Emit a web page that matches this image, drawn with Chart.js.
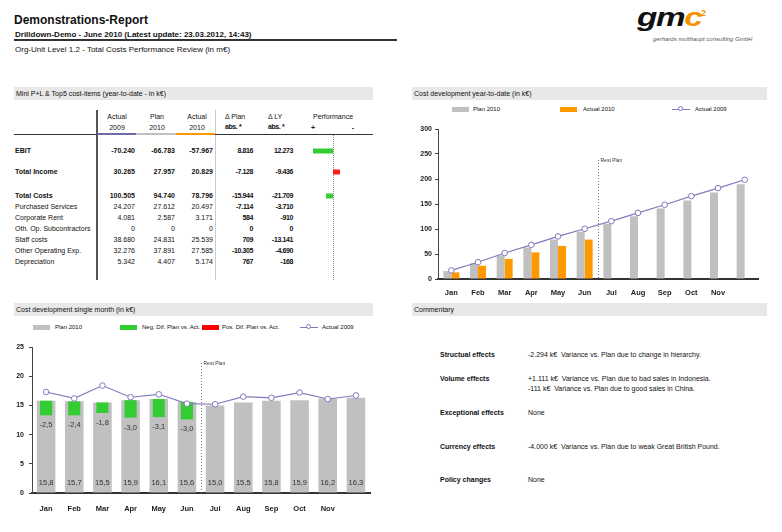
<!DOCTYPE html>
<html>

<head>
    <meta charset="utf-8">
    <title>Demonstrations-Report</title>
    <script src="https://cdn.jsdelivr.net/npm/chart.js"></script>
    <style>
        body { margin: 0; background: #fff; font-family: "Liberation Sans", Arial, sans-serif; color: #111; }
        #page { position: relative; width: 782px; height: 532px; overflow: hidden; }
        .t { position: absolute; white-space: nowrap; font-size: 7px; line-height: 10px; height: 10px; }
        .b { font-weight: bold; }
        .d { font-weight: bold; letter-spacing: -0.4px; }
        .head { position: absolute; background: #e8e8e8; height: 13px; font-size: 7px; line-height: 13px; padding-left: 2px; box-sizing: border-box; }
        .sw { position: absolute; height: 5px; width: 17px; }
        .ln { position: absolute; height: 1px; width: 18px; background: #7f7bbd; }
        .ln::after { content: ""; position: absolute; left: 6px; top: -3px; width: 5px; height: 5px; border: 1px solid #7f7bbd; border-radius: 50%; background: #fff; box-sizing: border-box; }
        .lg { font-size: 6px; }
        canvas { position: absolute; }
    </style>
</head>

<body>
    <div id="page">
        <!-- report header -->
        <div class="t b" style="left:14px;top:13px;font-size:12px;line-height:14px;height:14px">Demonstrations-Report</div>
        <div class="t b" style="left:15px;top:30px;font-size:8px">Drilldown-Demo - June 2010 (Latest update: 23.03.2012, 14:43)</div>
        <div style="position:absolute;left:14px;top:39px;width:383px;height:1.5px;background:#333"></div>
        <div class="t" style="left:15px;top:45px;font-size:8px">Org-Unit Level 1.2 - Total Costs Performance Review (in m€)</div>

        <!-- logo -->
        <div class="t" style="left:637px;top:2px;font-size:26px;line-height:30px;height:30px;font-weight:bold;font-style:italic;letter-spacing:-1px;transform:scaleX(1.28);transform-origin:left">gm<span style="color:#f39200">c</span></div>
        <div class="t b" style="left:701px;top:8px;font-size:9px;color:#f39200">2</div>
        <div class="t" style="left:653px;top:34px;font-size:6px;font-style:italic;color:#555">gerhards multhaupt consulting GmbH</div>

        <!-- section headers -->
        <div class="head" style="left:14px;top:87px;width:359px">Mini P+L &amp; Top5 cost-items (year-to-date - in k€)</div>
        <div class="head" style="left:412px;top:87px;width:355px">Cost development year-to-date (in k€)</div>
        <div class="head" style="left:14px;top:303px;width:359px">Cost development single month (in k€)</div>
        <div class="head" style="left:412px;top:303px;width:355px">Commentary</div>

        <!-- table frame -->
        <div style="position:absolute;left:96px;top:110px;width:2px;height:170px;background:#555"></div>
        <div style="position:absolute;left:215px;top:110px;width:1px;height:170px;background:#ccc"></div>
        <div style="position:absolute;left:14px;top:134px;width:359px;height:1px;background:#333"></div>
        <div style="position:absolute;left:97px;top:133px;width:39px;height:2px;background:#6f6aaa"></div>
        <div style="position:absolute;left:136px;top:133px;width:40px;height:2px;background:#c0c0c0"></div>
        <div style="position:absolute;left:176px;top:133px;width:39px;height:2px;background:#ff9900"></div>
        <div style="position:absolute;left:333px;top:135px;height:145px;border-left:1px dotted #888"></div>

        <!-- legend year-to-date -->
        <div class="sw" style="left:452px;top:107px;background:#c0c0c0"></div>
        <div class="t lg" style="left:473px;top:104px">Plan 2010</div>
        <div class="sw" style="left:560px;top:107px;background:#ff9900"></div>
        <div class="t lg" style="left:583px;top:104px">Actual 2010</div>
        <div class="ln" style="left:672px;top:109px"></div>
        <div class="t lg" style="left:695px;top:104px">Actual 2009</div>

        <!-- legend single month -->
        <div class="sw" style="left:33px;top:325px;background:#c0c0c0"></div>
        <div class="t lg" style="left:55px;top:322px">Plan 2010</div>
        <div class="sw" style="left:120px;top:325px;background:#33cc33"></div>
        <div class="t lg" style="left:142px;top:322px">Neg. Dif. Plan vs. Act.</div>
        <div class="sw" style="left:202px;top:325px;background:#ff0000"></div>
        <div class="t lg" style="left:222px;top:322px">Pos. Dif. Plan vs. Act.</div>
        <div class="ln" style="left:300px;top:327px"></div>
        <div class="t lg" style="left:322px;top:322px">Actual 2009</div>

        <!-- commentary -->
        <div class="t b" style="left:440px;top:350px">Structual effects</div>
        <div class="t" style="left:528px;top:350px">-2.294 k€&nbsp; Variance vs. Plan due to change in hierarchy.</div>
        <div class="t b" style="left:440px;top:374px">Volume effects</div>
        <div class="t" style="left:528px;top:374px">+1.111 k€&nbsp; Variance vs. Plan due to bad sales in Indonesia.</div>
        <div class="t" style="left:528px;top:384px">-111 k€&nbsp; Variance vs. Plan due to good sales in China.</div>
        <div class="t b" style="left:440px;top:408px">Exceptional effects</div>
        <div class="t" style="left:528px;top:408px">None</div>
        <div class="t b" style="left:440px;top:442px">Currency effects</div>
        <div class="t" style="left:528px;top:442px">-4.000 k€&nbsp; Variance vs. Plan due to weak Great British Pound.</div>
        <div class="t b" style="left:440px;top:475px">Policy changes</div>
        <div class="t" style="left:528px;top:475px">None</div>

        <canvas id="ytdChart" width="358" height="205" style="left:412px;top:100px"></canvas>
        <canvas id="monthChart" width="372" height="190" style="left:8px;top:335px"></canvas>
    </div>

    <script>
        // months (December has no label in the report)
        const months = ['Jan', 'Feb', 'Mar', 'Apr', 'May', 'Jun', 'Jul', 'Aug', 'Sep', 'Oct', 'Nov', ''];
        const restPlanFrom = 6; // first month that is plan only

        // year-to-date (k€)
        const planYtd = [15.8, 31.5, 47.0, 62.9, 79.0, 94.7, 110.0, 125.5, 141.0, 157.0, 173.0, 189.3];
        const actualYtd2010 = [13.3, 26.6, 40.3, 53.2, 66.2, 78.8];
        const actualYtd2009 = [17.3, 33.5, 51.9, 68.3, 85.2, 100.5, 115.7, 132.2, 148.5, 165.7, 181.8, 198.5];

        // single month (k€)
        const planMonth = [15.8, 15.7, 15.5, 15.9, 16.1, 15.6, 15.0, 15.5, 15.8, 15.9, 16.2, 16.3];
        const negDiff = [-2.5, -2.4, -1.8, -3.0, -3.1, -3.0];
        const posDiff = [];
        const actualMonth2009 = [17.3, 16.2, 18.4, 16.4, 16.9, 15.3, 15.2, 16.5, 16.3, 17.2, 16.1, 16.7];

        // mini P+L table
        const rowLabels = ['EBIT', 'Total Income', 'Total Costs', 'Purchased Services', 'Corporate Rent',
            'Oth. Op. Subcontractors', 'Staff costs', 'Other Operating Exp.', 'Depreciation'];
        const actual2009 = [-70240, 30265, 100505, 24207, 4081, 0, 38680, 32276, 5342];
        const plan2010 = [-66783, 27957, 94740, 27612, 2587, 0, 24831, 37891, 4407];
        const actual2010 = [-57967, 20829, 78796, 20497, 3171, 0, 25539, 27585, 5174];
        const deltaPlan = [8816, -7128, -15944, -7114, 584, 0, 709, -10305, 767];
        const deltaLY = [12273, -9436, -21709, -3710, -910, 0, -13141, -4690, -168];
        const performance = [2.0, -0.7, 0.7]; // + = better (drawn left), EBIT / Income / Costs

        const page = document.getElementById('page');
        const FONT = '"Liberation Sans", Arial, sans-serif';
        Chart.defaults.font.family = FONT;
        Chart.defaults.color = '#222';

        function fmt(v) {
            const s = Math.abs(v).toString().replace(/\B(?=(\d{3})+(?!\d))/g, '.');
            return (v < 0 ? '-' : '') + s;
        }
        function dec(v) {
            return v.toFixed(1).replace('.', ',');
        }
        function put(x, y, s, cls, align) {
            const d = document.createElement('div');
            d.className = 't ' + (cls || '');
            d.textContent = s;
            d.style.left = x + 'px';
            d.style.top = (y - 5) + 'px';
            if (align === 'r') d.style.transform = 'translateX(-100%)';
            if (align === 'c') d.style.transform = 'translateX(-50%)';
            page.appendChild(d);
        }

        // table header
        put(117, 117, 'Actual', '', 'c'); put(117, 128, '2009', '', 'c');
        put(157, 117, 'Plan', '', 'c'); put(157, 128, '2010', '', 'c');
        put(197, 117, 'Actual', '', 'c'); put(197, 128, '2010', '', 'c');
        put(225, 117, 'Δ Plan'); put(225, 127, 'abs. *', 'd');
        put(268, 117, 'Δ LY'); put(268, 127, 'abs. *', 'd');
        put(333, 117, 'Performance', '', 'c');
        put(313, 128, '+', 'b', 'c'); put(353, 128, '-', 'b', 'c');

        // table rows
        const rowY = [151, 172, 196, 207, 218, 229, 240, 251, 262];
        rowLabels.forEach((label, i) => {
            const cls = i < 3 ? 'b' : '';
            put(15, rowY[i], label, cls);
            put(135, rowY[i], fmt(actual2009[i]), cls, 'r');
            put(175, rowY[i], fmt(plan2010[i]), cls, 'r');
            put(213, rowY[i], fmt(actual2010[i]), cls, 'r');
            put(253, rowY[i], fmt(deltaPlan[i]), 'd', 'r');
            put(293, rowY[i], fmt(deltaLY[i]), 'd', 'r');
        });

        // performance bars
        performance.forEach((v, i) => {
            const c = document.createElement('canvas');
            c.width = 80; c.height = 8;
            c.style.left = '293px';
            c.style.top = (rowY[i] - 4) + 'px';
            page.appendChild(c);
            new Chart(c, {
                type: 'bar',
                data: {
                    labels: [rowLabels[i]],
                    datasets: [{
                        data: [v],
                        backgroundColor: v >= 0 ? '#33cc33' : '#ff1a1a',
                        barPercentage: 1,
                        categoryPercentage: 0.62
                    }]
                },
                options: {
                    indexAxis: 'y',
                    responsive: false,
                    animation: false,
                    events: [],
                    layout: { padding: 0 },
                    plugins: { legend: { display: false }, tooltip: { enabled: false } },
                    scales: {
                        x: { display: false, min: -4, max: 4, reverse: true },
                        y: { display: false }
                    }
                }
            });
        });

        // dotted "Rest Plan" divider between actual and plan months
        const restPlan = {
            id: 'restPlan',
            beforeDatasetsDraw(chart, args, opts) {
                const xs = chart.scales.x;
                const x = Math.round((xs.getPixelForValue(restPlanFrom - 1) + xs.getPixelForValue(restPlanFrom)) / 2) + 0.5;
                const top = chart.chartArea.top + opts.offset;
                const ctx = chart.ctx;
                ctx.save();
                ctx.strokeStyle = '#777';
                ctx.lineWidth = 1;
                ctx.setLineDash([1, 2]);
                ctx.beginPath();
                ctx.moveTo(x, top);
                ctx.lineTo(x, chart.chartArea.bottom);
                ctx.stroke();
                ctx.setLineDash([]);
                ctx.font = '5px ' + FONT;
                ctx.fillStyle = '#333';
                ctx.textBaseline = 'middle';
                ctx.fillText('Rest Plan', x + 2, top + 1);
                ctx.restore();
            }
        };

        function yAxis(max, step, width, pad) {
            return {
                min: 0, max: max,
                ticks: { stepSize: step, padding: pad, font: { size: 7, weight: 'bold' }, color: '#222' },
                grid: { display: true, drawOnChartArea: false, drawTicks: true, tickLength: 3, color: '#444' },
                border: { display: true, color: '#444', width: 1 },
                afterFit(s) { s.width = width; }
            };
        }
        function xAxis(height, pad) {
            return {
                grid: { display: false, drawTicks: false },
                border: { display: true, color: '#333', width: 2 },
                ticks: { padding: pad, font: { size: 7.5, weight: 'bold' }, color: '#222', autoSkip: false, maxRotation: 0 },
                afterFit(s) { s.height = height; }
            };
        }

        // cost development year-to-date
        new Chart(document.getElementById('ytdChart'), {
            type: 'bar',
            data: {
                labels: months,
                datasets: [{
                    label: 'Plan 2010',
                    data: planYtd,
                    backgroundColor: '#c0c0c0',
                    categoryPercentage: 0.6,
                    barPercentage: 1,
                    order: 1
                }, {
                    label: 'Actual 2010',
                    data: actualYtd2010,
                    backgroundColor: '#ff9900',
                    categoryPercentage: 0.6,
                    barPercentage: 1,
                    order: 2
                }, {
                    type: 'line',
                    label: 'Actual 2009',
                    data: actualYtd2009,
                    borderColor: '#7f7bbd',
                    borderWidth: 1.2,
                    pointRadius: 2.8,
                    pointBorderWidth: 1,
                    pointBackgroundColor: '#fff',
                    pointBorderColor: '#7f7bbd',
                    fill: false,
                    order: 0
                }]
            },
            options: {
                responsive: false,
                animation: false,
                events: [],
                layout: { padding: { top: 29, right: 12, left: 0, bottom: 0 } },
                plugins: { legend: { display: false }, tooltip: { enabled: false }, restPlan: { offset: 31 } },
                scales: { x: xAxis(26, 9), y: yAxis(300, 50, 26, 3) }
            },
            plugins: [restPlan]
        });

        // plan values and differences written on the monthly bars
        const monthLabels = {
            id: 'monthLabels',
            afterDatasetsDraw(chart) {
                const ctx = chart.ctx;
                const area = chart.chartArea;
                ctx.save();
                ctx.font = '7.5px ' + FONT;
                ctx.fillStyle = '#333';
                ctx.textAlign = 'center';
                ctx.textBaseline = 'middle';
                chart.getDatasetMeta(0).data.forEach((el, i) => {
                    ctx.fillText(dec(planMonth[i]), el.x, area.bottom - 10);
                });
                chart.getDatasetMeta(1).data.forEach((el, i) => {
                    if (negDiff[i] == null) return;
                    ctx.fillText(dec(negDiff[i]), el.x, Math.max(el.y, el.base) + 10);
                });
                ctx.restore();
            }
        };

        // cost development single month
        new Chart(document.getElementById('monthChart'), {
            type: 'bar',
            data: {
                labels: months,
                datasets: [{
                    label: 'Plan 2010',
                    data: planMonth,
                    backgroundColor: '#c0c0c0',
                    grouped: false,
                    categoryPercentage: 1,
                    barPercentage: 0.66,
                    order: 3
                }, {
                    label: 'Neg. Dif. Plan vs. Act.',
                    data: negDiff.map((d, i) => [planMonth[i], +(planMonth[i] + d).toFixed(1)]),
                    backgroundColor: '#33cc33',
                    grouped: false,
                    categoryPercentage: 1,
                    barPercentage: 0.43,
                    order: 2
                }, {
                    label: 'Pos. Dif. Plan vs. Act.',
                    data: posDiff,
                    backgroundColor: '#ff0000',
                    grouped: false,
                    categoryPercentage: 1,
                    barPercentage: 0.43,
                    order: 1
                }, {
                    type: 'line',
                    label: 'Actual 2009',
                    data: actualMonth2009,
                    borderColor: '#7f7bbd',
                    borderWidth: 1.2,
                    pointRadius: 2.8,
                    pointBorderWidth: 1,
                    pointBackgroundColor: '#fff',
                    pointBorderColor: '#7f7bbd',
                    fill: false,
                    order: 0
                }]
            },
            options: {
                responsive: false,
                animation: false,
                events: [],
                layout: { padding: { top: 12, right: 10, left: 0, bottom: 0 } },
                plugins: { legend: { display: false }, tooltip: { enabled: false }, restPlan: { offset: 16 } },
                scales: { x: xAxis(32, 11), y: yAxis(25, 5, 24, 5) }
            },
            plugins: [restPlan, monthLabels]
        });
    </script>
</body>

</html>
